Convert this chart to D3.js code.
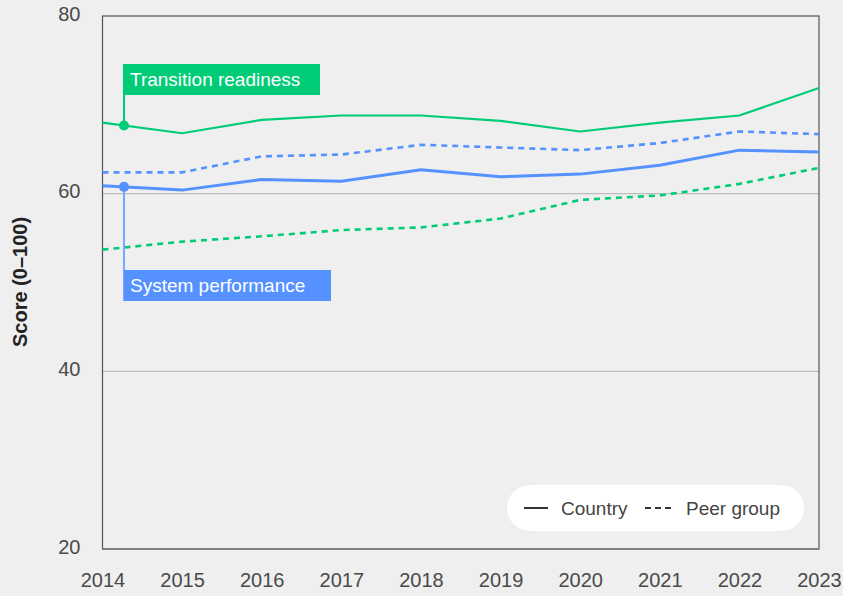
<!DOCTYPE html>
<html lang="en">
<head>
<meta charset="utf-8">
<title>Score chart</title>
<script src="https://d3js.org/d3.v7.min.js"></script>
<style>
  body { margin: 0; background: #efefef; }
  svg { display: block; font-family: "Liberation Sans", Arial, sans-serif; }
  .tick text { fill: #4a4a4a; font-size: 20px; }
</style>
</head>
<body>
<svg id="chart" width="843" height="596"></svg>
<script>
const years = [2014, 2015, 2016, 2017, 2018, 2019, 2020, 2021, 2022, 2023];
const readinessCountry = [68.0, 66.8, 68.3, 68.8, 68.8, 68.2, 67.0, 68.0, 68.8, 71.9];
const readinessPeer    = [53.7, 54.6, 55.2, 55.9, 56.2, 57.2, 59.3, 59.8, 61.1, 62.9];
const performanceCountry = [60.9, 60.4, 61.6, 61.4, 62.7, 61.9, 62.2, 63.2, 64.9, 64.7];
const performancePeer    = [62.4, 62.4, 64.2, 64.4, 65.5, 65.2, 64.9, 65.7, 67.0, 66.7];
const yTicks = [20, 40, 60, 80];

const green = '#00cc77', blue = '#5591ff';
const svg = d3.select('#chart');
const m = { left: 102.5, right: 819, top: 16, bottom: 549 };

const x = d3.scaleLinear().domain([2014, 2023]).range([m.left, m.right]);
const y = d3.scaleLinear().domain([20, 80]).range([m.bottom, m.top]);

// gridlines
svg.selectAll('.grid').data([40, 60]).enter().append('line')
  .attr('x1', m.left).attr('x2', m.right)
  .attr('y1', d => y(d)).attr('y2', d => y(d))
  .attr('stroke', '#bdbdbd').attr('stroke-width', 1.2);

// frame
svg.append('rect')
  .attr('x', m.left).attr('y', m.top)
  .attr('width', m.right - m.left).attr('height', m.bottom - m.top)
  .attr('fill', 'none').attr('stroke', '#555').attr('stroke-width', 1.2);
svg.append('line').attr('x1', m.left).attr('x2', m.right)
  .attr('y1', m.bottom).attr('y2', m.bottom)
  .attr('stroke', '#7a7a7a').attr('stroke-width', 1.6);

// axes
const yAxis = svg.append('g').attr('transform', `translate(${m.left},0)`)
  .call(d3.axisLeft(y).tickValues(yTicks).tickSize(0).tickPadding(22));
yAxis.select('.domain').remove();
yAxis.selectAll('text').attr('dy', '0.2em');

const xAxis = svg.append('g').attr('transform', `translate(0,${m.bottom})`)
  .call(d3.axisBottom(x).tickValues(years).tickFormat(d3.format('d')).tickSize(0).tickPadding(24));
xAxis.select('.domain').remove();

svg.append('text')
  .attr('transform', 'translate(27,282) rotate(-90)')
  .attr('text-anchor', 'middle')
  .attr('fill', '#222').attr('font-size', 20).attr('font-weight', 700)
  .text('Score (0–100)');

// lines
const line = d3.line().x((d, i) => x(years[i])).y(d => y(d));
const series = [
  { vals: readinessPeer, color: green, w: 2.6, dash: '6,5' },
  { vals: performancePeer, color: blue, w: 2.6, dash: '6,5' },
  { vals: readinessCountry, color: green, w: 2.2, dash: null },
  { vals: performanceCountry, color: blue, w: 3, dash: null }
];
svg.selectAll('.series').data(series).enter().append('path')
  .attr('d', d => line(d.vals))
  .attr('fill', 'none')
  .attr('stroke', d => d.color)
  .attr('stroke-width', d => d.w)
  .attr('stroke-dasharray', d => d.dash);

// annotations
const ax = 2014.27;
const lerp = (arr, t) => arr[0] + (arr[1] - arr[0]) * (t - 2014);
function label(vals, color, lineColor, boxY, text, boxW) {
  const py = y(lerp(vals, ax));
  const boxTop = boxY, boxH = 31;
  const endY = boxY < py ? boxTop : boxTop + boxH;
  svg.append('line').attr('x1', x(ax)).attr('x2', x(ax))
    .attr('y1', py).attr('y2', endY)
    .attr('stroke', lineColor).attr('stroke-width', 2);
  svg.append('rect').attr('x', x(ax)).attr('y', boxTop)
    .attr('width', boxW).attr('height', boxH).attr('fill', color);
  svg.append('text').attr('x', x(ax) + 6).attr('y', boxTop + 22)
    .attr('fill', '#fff').attr('font-size', 19)
    .text(text);
  svg.append('circle').attr('cx', x(ax)).attr('cy', py).attr('r', 5).attr('fill', color);
}
label(readinessCountry, green, green, 64, 'Transition readiness', 196);
label(performanceCountry, blue, '#7aa8ff', 270, 'System performance', 207);

// legend
const lg = svg.append('g').attr('transform', 'translate(507,485)');
lg.append('rect').attr('width', 297).attr('height', 46).attr('rx', 23).attr('fill', '#fff');
lg.append('line').attr('x1', 17).attr('x2', 41).attr('y1', 23).attr('y2', 23)
  .attr('stroke', '#333').attr('stroke-width', 2);
lg.append('text').attr('x', 54).attr('y', 30).attr('fill', '#444')
  .attr('font-size', 19).text('Country');
lg.append('line').attr('x1', 138).attr('x2', 164).attr('y1', 23).attr('y2', 23)
  .attr('stroke', '#333').attr('stroke-width', 2).attr('stroke-dasharray', '6,4');
lg.append('text').attr('x', 179).attr('y', 30).attr('fill', '#444')
  .attr('font-size', 19).text('Peer group');
</script>
</body>
</html>
